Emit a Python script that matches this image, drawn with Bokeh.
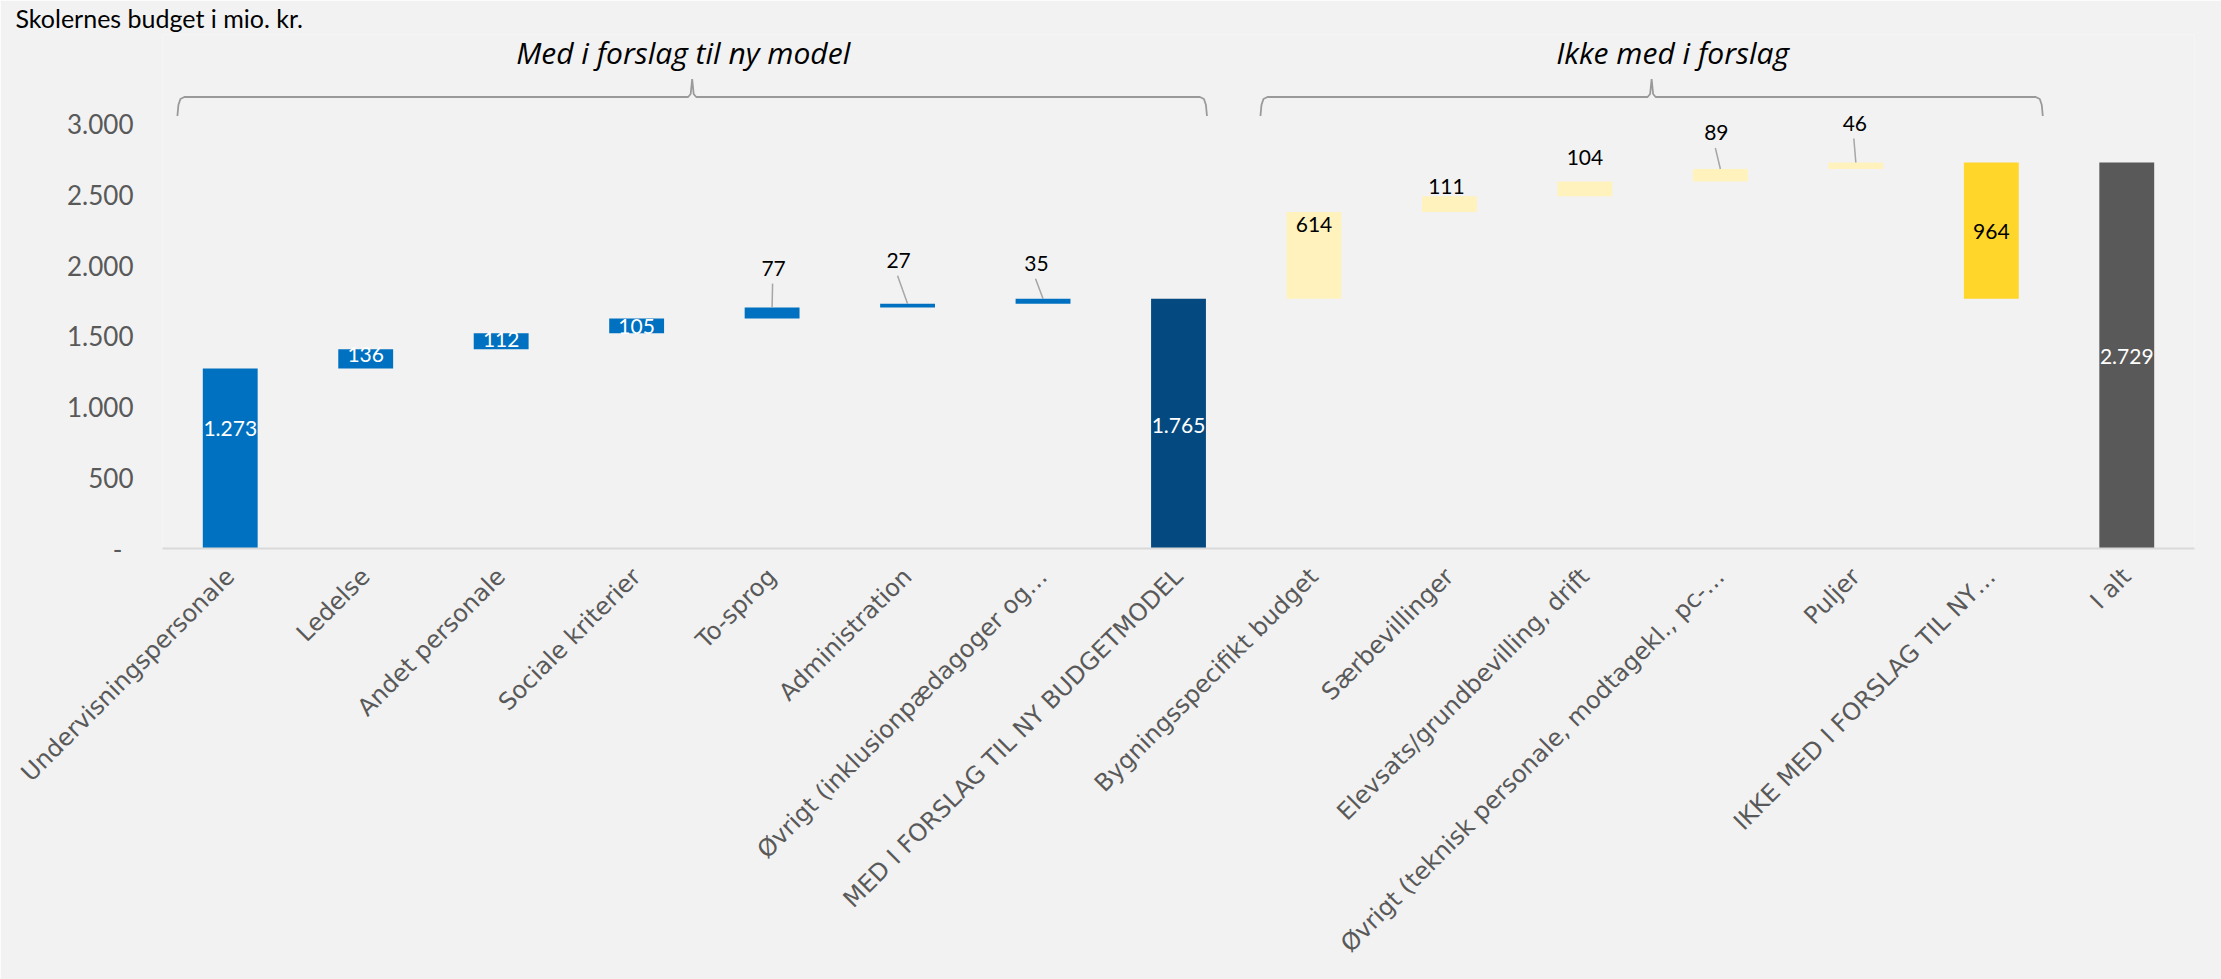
import math
from bokeh.plotting import figure
from bokeh.models import Range1d, FixedTicker, ColumnDataSource
from bokeh.core.properties import value
from bokeh.embed import file_html
from bokeh.resources import INLINE

# ---------------- data ----------------
title_text = "Skolernes budget i mio. kr."
categories = [
    "Undervisningspersonale", "Ledelse", "Andet personale", "Sociale kriterier",
    "To-sprog", "Administration", "Øvrigt (inklusionpædagoger og…",
    "MED I FORSLAG TIL NY BUDGETMODEL", "Bygningsspecifikt budget", "Særbevillinger",
    "Elevsats/grundbevilling, drift", "Øvrigt (teknisk personale, modtagekl., pc-…",
    "Puljer", "IKKE MED I FORSLAG TIL NY…", "I alt",
]
values = [1273, 136, 112, 105, 77, 27, 35, 1765, 614, 111, 104, 89, 46, 964, 2729]
kinds = ["delta"] * 7 + ["total"] + ["delta"] * 5 + ["group"] + ["total"]
group_names = ["Med i forslag til ny model", "Ikke med i forslag"]
group_spans = [(0, 7), (8, 13)]
y_ticks = [0, 500, 1000, 1500, 2000, 2500, 3000]

# ---------------- style ----------------
BLUE, NAVY, LYEL, YEL, GRAY = "#0070c0", "#044a80", "#fff2bd", "#ffd629", "#595959"
bar_colors = [BLUE] * 7 + [NAVY] + [LYEL] * 5 + [YEL] + [GRAY]
# ("in", color, dx, dy_px from middle) or ("out", color, dx_px, dy_px above top, leader)
label_style = [
    ("in", "white", 0, -30), ("in", "white", 0, -4), ("in", "white", 0, -2), ("in", "white", 0, 1),
    ("out", "black", 1.5, -39, True), ("out", "black", -9, -43, True), ("out", "black", -6.5, -35, True),
    ("in", "white", 0, 2), ("in", "black", 0, -31), ("out", "black", -3, -10, False),
    ("out", "black", 0, -24, False), ("out", "black", -4, -36, True), ("out", "black", -1, -39, True),
    ("in", "black", 0, 1), ("in", "white", 0, 1),
]

W, H = 2221, 979
MB_L, MB_R, MB_T, MB_B = 162, 27, 34, 431
FW, FH = W - MB_L - MB_R, H - MB_T - MB_B
PX_PER_UNIT = 0.14145
Y_END = FH / PX_PER_UNIT
x_per = FW / 15.0
y_per = FH / Y_END

def dx(px):
    return px / x_per

def dy(px):  # screen px (down positive) -> data delta
    return -px / y_per

# ---------------- waterfall geometry ----------------
bottoms, tops = [], []
running = 0
for v, k in zip(values, kinds):
    if k == "delta":
        b, t = running, running + v
        running = t
    elif k == "total":
        b, t = 0, v
        running = v
    else:  # subtotal of the group just above
        b, t = running - v, running
    bottoms.append(b)
    tops.append(t)

xs = list(range(len(values)))
fmt = lambda v: f"{v:,}".replace(",", ".")

p = figure(width=W, height=H, output_backend="svg", toolbar_location=None,
           x_range=Range1d(-0.5, 14.5), y_range=Range1d(0, Y_END),
           min_border_left=MB_L, min_border_right=MB_R, min_border_top=MB_T,
           min_border_bottom=MB_B)
p.border_fill_color = "#f2f2f2"
p.background_fill_color = "#f2f2f2"
p.outline_line_color = None
p.grid.visible = False

# title (top-left, above the panel)
p.title.text = title_text
p.title.align = "left"
p.title.vertical_align = "top"
p.title.offset = 15 - MB_L
p.title.standoff = 0
p.title.text_font = "Lato"
p.title.text_font_size = "25px"
p.title.text_font_style = "normal"
p.title.text_color = "black"

p.vbar(x=xs, bottom=bottoms, top=tops, width=0.405, fill_color=bar_colors,
       line_color=None)

# ---------------- value labels ----------------
lx, ly, lt, lc = [], [], [], []
seg_x0, seg_y0, seg_x1, seg_y1 = [], [], [], []
for i, (v, b, t, st) in enumerate(zip(values, bottoms, tops, label_style)):
    if st[0] == "in":
        lx.append(i)
        ly.append((b + t) / 2 + dy(st[3]))
    else:
        tx = i + dx(st[2])
        ty = t + dy(st[3])
        lx.append(tx)
        ly.append(ty)
        if st[4]:
            seg_x0.append(tx - dx(1))
            seg_y0.append(ty + dy(15))
            seg_x1.append(i)
            seg_y1.append(t)
    lc.append(st[1])
    lt.append(fmt(v))

p.segment(x0=seg_x0, y0=seg_y0, x1=seg_x1, y1=seg_y1, line_color="#a6a6a6",
          line_width=1.5)
p.text(x=lx, y=ly, text=lt, text_color=lc, text_align="center",
       text_baseline="middle", text_font=value("Lato"), text_font_size="21px")

# ---------------- group brackets ----------------
BR_Y = 3192
ext = [(-0.39, 0.21), (-0.395, 0.38)]
text_shift = [-9, 21]
for (a, c), (e0, e1), name, ts in zip(group_spans, ext, group_names, text_shift):
    x0, x1 = a + e0, c + e1
    xm = (x0 + x1) / 2
    bx = [x0, x0 + dx(1), x0 + dx(3), x0 + dx(7),
          xm - dx(4), xm - dx(1.5), xm, xm + dx(1.5), xm + dx(4),
          x1 - dx(7), x1 - dx(3), x1 - dx(1), x1]
    by = [BR_Y + dy(19), BR_Y + dy(8), BR_Y + dy(2), BR_Y,
          BR_Y, BR_Y + dy(-3), BR_Y + dy(-18), BR_Y + dy(-3), BR_Y,
          BR_Y, BR_Y + dy(2), BR_Y + dy(8), BR_Y + dy(19)]
    p.line(bx, by, line_color="#9a9a9a", line_width=1.8)
    p.text(x=[xm + dx(ts)], y=[BR_Y + dy(-44)], text=[name], text_align="center",
           text_baseline="middle", text_font=value("Open Sans"), text_font_style="italic",
           text_font_size="30px", text_color="black")

# ---------------- axes ----------------
ya = p.yaxis[0]
ya.ticker = FixedTicker(ticks=y_ticks)
ya.major_label_overrides = {t: ("-\u2008\u2008" if t == 0 else fmt(t)) for t in y_ticks}
ya.axis_line_color = None
ya.major_tick_line_color = None
ya.minor_tick_line_color = None
ya.major_tick_out = 0
ya.major_label_standoff = 29
ya.major_label_text_font = "Lato"
ya.major_label_text_font_size = "26px"
ya.major_label_text_color = GRAY

xa = p.xaxis[0]
xa.ticker = FixedTicker(ticks=xs)
xa.major_label_overrides = {i: c for i, c in enumerate(categories)}
xa.major_label_orientation = math.pi / 4
xa.axis_line_color = "#d9d9d9"
xa.axis_line_width = 2
xa.major_tick_line_color = None
xa.minor_tick_line_color = None
xa.major_tick_out = 0
xa.major_label_standoff = 24
xa.major_label_text_font = "DejaVu Sans"
xa.major_label_text_font_size = "24px"
xa.major_label_text_color = GRAY

open("out.html", "w").write(file_html(p, INLINE))
